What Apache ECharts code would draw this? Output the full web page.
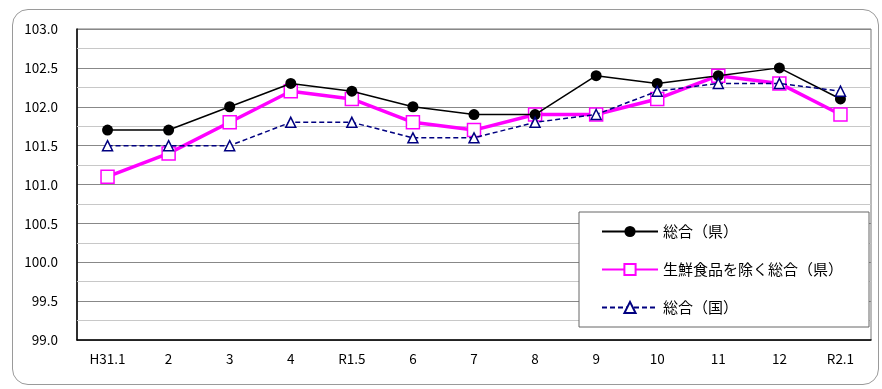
<!DOCTYPE html>
<html>
<head>
<meta charset="utf-8">
<script src="https://cdn.jsdelivr.net/npm/echarts@6/dist/echarts.min.js"></script>
<style>
  html, body { margin: 0; padding: 0; background: #fff; }
  #frame {
    position: absolute; left: 12px; top: 9px; width: 867px; height: 376px;
    border: 1px solid #9a9a9a; border-radius: 16px; box-sizing: border-box;
  }
  #chart { position: absolute; left: 0; top: 0; width: 882px; height: 389px; }
</style>
</head>
<body>
<div id="frame"></div>
<div id="chart"></div>
<script>
const months = ['H31.1', '2', '3', '4', 'R1.5', '6', '7', '8', '9', '10', '11', '12', 'R2.1'];
const kenTotal = [101.7, 101.7, 102.0, 102.3, 102.2, 102.0, 101.9, 101.9, 102.4, 102.3, 102.4, 102.5, 102.1];
const kenCore = [101.1, 101.4, 101.8, 102.2, 102.1, 101.8, 101.7, 101.9, 101.9, 102.1, 102.4, 102.3, 101.9];
const kuniTotal = [101.5, 101.5, 101.5, 101.8, 101.8, 101.6, 101.6, 101.8, 101.9, 102.2, 102.3, 102.3, 102.2];
const names = ['総合（県）', '生鮮食品を除く総合（県）', '総合（国）'];

const font = '"Noto Sans CJK JP", sans-serif';
const chart = echarts.init(document.getElementById('chart'));

// 0.25刻みの補助線は薄いグレー、0.5刻みは濃いめ
const minorLines = [];
for (let v = 99.25; v < 103; v += 0.5) minorLines.push({ yAxis: v });

const option = {
  animation: false,
  textStyle: { fontFamily: font },
  grid: { left: 77, right: 11, top: 29, bottom: 49, containLabel: false, show: true, borderColor: '#777', borderWidth: 1 },
  legend: {
    orient: 'vertical',
    left: 579, top: 212,
    padding: [12, 26, 12, 22],
    itemGap: 23,
    itemWidth: 56, itemHeight: 14,
    backgroundColor: '#fff',
    borderColor: '#666', borderWidth: 1,
    textStyle: { fontFamily: font, fontSize: 15, color: '#000' },
    data: names
  },
  xAxis: {
    type: 'category',
    data: months,
    boundaryGap: true,
    axisLine: { lineStyle: { color: '#000', width: 1.5 } },
    axisTick: { show: false },
    axisLabel: { color: '#000', fontSize: 13.5, margin: 12, fontFamily: font }
  },
  yAxis: {
    type: 'value',
    min: 99.0, max: 103.0, interval: 0.5,
    axisLine: { show: true, lineStyle: { color: '#000', width: 1.5 } },
    axisTick: { show: false },
    axisLabel: { color: '#000', fontSize: 13.5, margin: 19, formatter: v => v.toFixed(1), fontFamily: font },
    splitLine: { lineStyle: { color: '#888', width: 1 } }
  },
  series: [
    {
      name: names[0], type: 'line', data: kenTotal, z: 4,
      symbol: 'circle', symbolSize: 11,
      lineStyle: { color: '#000', width: 1.5 },
      itemStyle: { color: '#000' },
      markLine: {
        silent: true, symbol: 'none', label: { show: false },
        lineStyle: { color: '#c8c8c8', type: 'solid', width: 1 },
        z: 1, data: minorLines
      }
    },
    {
      name: names[1], type: 'line', data: kenCore, z: 3,
      symbol: 'rect', symbolSize: 13,
      lineStyle: { color: '#ff00ff', width: 3.5 },
      itemStyle: { color: '#fff', borderColor: '#ff00ff', borderWidth: 1.5 }
    },
    {
      name: names[2], type: 'line', data: kuniTotal, z: 5,
      symbol: 'triangle', symbolSize: 10,
      lineStyle: { color: '#000080', width: 1.5, type: [5, 3] },
      itemStyle: { color: '#fff', borderColor: '#000080', borderWidth: 1.5 }
    }
  ]
};

chart.setOption(option);
</script>
</body>
</html>
